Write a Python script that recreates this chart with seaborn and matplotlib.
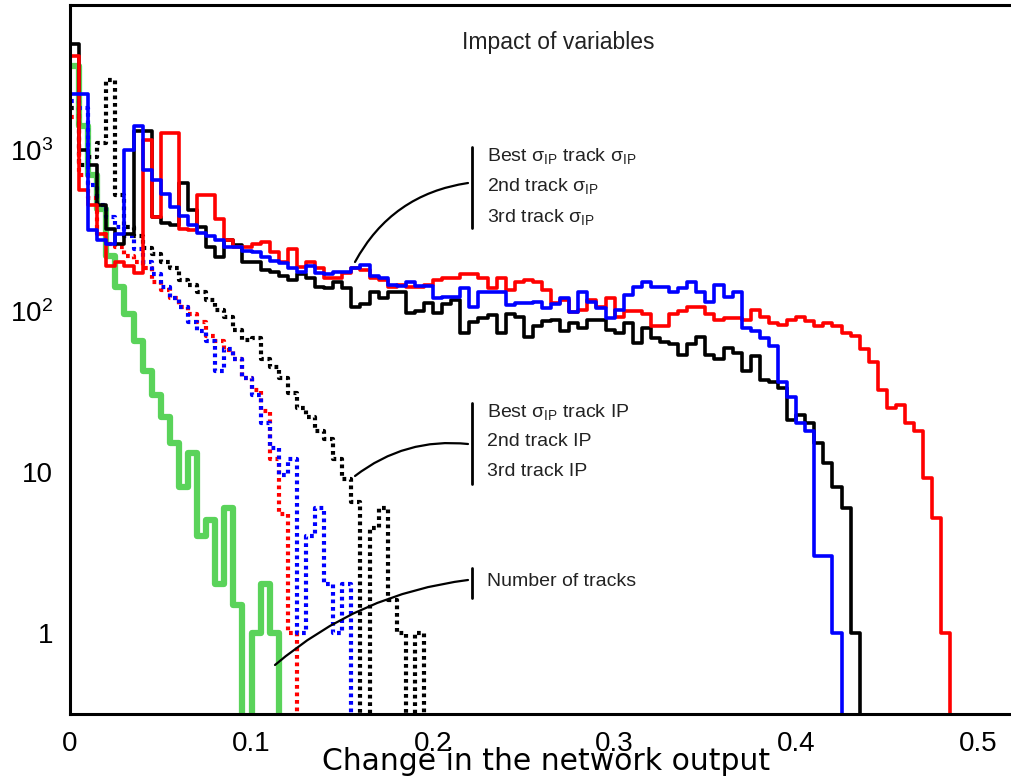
import numpy as np
import pandas as pd
import matplotlib
matplotlib.use("Agg")
import matplotlib.pyplot as plt
import seaborn as sns
from matplotlib.lines import Line2D
from matplotlib.ticker import (MultipleLocator, FixedLocator, FixedFormatter,
                               LogLocator, NullFormatter, FuncFormatter)

# binning of the "change in network output" histograms
bin_width = 0.005
n_bins = 104

# --- sigma_IP variables (solid) ---
best_sigma_sigma = [4500, 1000, 800, 450, 320, 260, 300, 1300, 1300, 380,
                    350, 340, 620, 420, 330, 250, 215, 275, 255, 200,
                    200, 180, 175, 165, 155, 168, 160, 140, 139, 150,
                    139, 105, 110, 130, 120, 131, 131, 97, 100, 112,
                    97, 110, 117, 73, 85, 90, 94, 73, 95, 92,
                    69, 80, 86, 88, 75, 84, 78, 88, 88, 76,
                    73, 84, 63, 78, 68, 64, 62, 53, 62, 69,
                    53, 50, 59, 55, 42, 52, 37, 36, 33, 21,
                    22.5, 20, 15, 11.4, 8.1, 6, 1]

second_sigma = [3800, 560, 450, 300, 190, 200, 190, 172, 1150, 380,
                1270, 1270, 320, 315, 525, 525, 370, 275, 250, 250,
                260, 268, 230, 200, 240, 188, 200, 185, 160, 160,
                172, 185, 180, 160, 155, 140, 145, 141, 141, 145,
                155, 160, 160, 168, 168, 160, 139, 160, 135, 150,
                155, 150, 135, 111, 117, 98, 101, 117, 106, 120,
                92, 100, 100, 95, 80, 80, 95, 100, 105, 105,
                95, 88, 90, 90, 88, 101, 92, 84, 82, 88,
                92, 86, 80, 84, 80, 73, 70, 58, 48, 32,
                25, 26, 20, 18, 9.2, 5.2, 1.0]

third_sigma = [2200, 2200, 315, 275, 260, 300, 1000, 1400, 750, 650,
               530, 440, 390, 340, 305, 290, 275, 250, 248, 235,
               230, 215, 205, 198, 185, 175, 190, 172, 170, 174,
               175, 185, 192, 165, 160, 145, 142, 150, 143, 143,
               120, 122, 122, 139, 106, 130, 131, 131, 109, 111,
               111, 114, 104, 110, 120, 98, 131, 114, 104, 90,
               101, 126, 140, 150, 141, 140, 130, 138, 150, 130,
               114, 145, 122, 130, 78, 75, 68, 60, 36, 29,
               20, 18, 3.0, 3.0, 1.0]

# --- IP variables (dotted) ---
best_sigma_ip = [1800, 800, 900, 1100, 2700, 520, 330, 290, 245, 225,
                 200, 185, 155, 145, 131, 117, 101, 92, 76, 66,
                 68, 50, 45, 38, 31, 25, 22, 18, 16, 12,
                 9, 6.5, 0, 4.5, 6, 1.6, 1.0, 0, 1.0]

second_ip = [1600, 700, 500, 300, 260, 250, 220, 200, 185, 150,
             135, 120, 105, 95, 85, 70, 65, 57, 50, 38,
             32, 24, 12, 5.5, 1.0]

third_ip = [2000, 1800, 600, 450, 380, 330, 290, 240, 200, 170,
            140, 120, 105, 85, 75, 65, 42, 58, 50, 38,
            30, 20, 14, 9.5, 12, 1.0, 4, 6, 2, 1.0,
            2]

# --- number of tracks ---
n_tracks = [3300, 1400, 700, 430, 220, 140, 95, 65, 42, 30,
            22, 15, 8, 13, 4, 5, 2.0, 6, 1.5, 0,
            1.0, 2.0, 1.0]

edges = np.arange(n_bins + 1) * bin_width
centers = edges[:-1] + bin_width / 2


def to_frame(vals):
    w = np.zeros(n_bins)
    w[:len(vals)] = vals
    return pd.DataFrame({'x': centers, 'w': w})


sns.set_style("white")
plt.rcParams['font.family'] = ['Liberation Sans', 'DejaVu Sans']
plt.rcParams['mathtext.fontset'] = 'custom'
plt.rcParams['mathtext.rm'] = 'Liberation Sans'
plt.rcParams['mathtext.it'] = 'Liberation Sans'

W, H = 1011, 780
fig = plt.figure(figsize=(W / 100, H / 100), dpi=100)
ax = fig.add_axes([70 / W, 66 / H, 944 / W, 709 / H])
ax.set_yscale('log')

dots = (0, (0.9, 0.9))
series = [
    (n_tracks, '#5ad35a', '-', 4.5),
    (best_sigma_ip, 'black', dots, 3.0),
    (second_ip, '#ff0000', dots, 3.0),
    (third_ip, '#0000ff', dots, 3.0),
    (best_sigma_sigma, 'black', '-', 2.6),
    (second_sigma, '#ff0000', '-', 2.6),
    (third_sigma, '#0000ff', '-', 2.6),
]
for vals, color, ls, lw in series:
    sns.histplot(data=to_frame(vals), x='x', weights='w', bins=list(edges),
                 element='step', fill=False, color=color, linewidth=lw,
                 linestyle=ls, ax=ax)

ax.set_xlim(0, 0.52)
ax.set_ylim(0.314, 7900)
ax.set_xlabel('')
ax.set_ylabel('')

ax.xaxis.set_major_locator(MultipleLocator(0.1))
ax.xaxis.set_minor_locator(MultipleLocator(0.02))
ax.xaxis.set_major_formatter(FuncFormatter(lambda v, p: '0' if abs(v) < 1e-9 else f'{v:.1f}'))
ax.yaxis.set_major_locator(FixedLocator([1, 10, 100, 1000]))
ax.yaxis.set_major_formatter(FixedFormatter(['1', '10', r'$\mathregular{10^2}$',
                                             r'$\mathregular{10^3}$']))
ax.yaxis.set_minor_locator(LogLocator(base=10, subs=np.arange(2, 10)))
ax.yaxis.set_minor_formatter(NullFormatter())

ax.tick_params(which='both', direction='in', width=2, colors='black',
               labelsize=20)
ax.tick_params(axis='x', which='major', length=14, pad=12)
ax.tick_params(axis='x', which='minor', length=8)
ax.tick_params(axis='y', which='major', length=22, pad=12)
ax.tick_params(axis='y', which='minor', length=11)
for s in ['left', 'bottom', 'top']:
    ax.spines[s].set_linewidth(2.2)
    ax.spines[s].set_color('black')
ax.spines['right'].set_visible(False)


def fx(px):
    return px / W


def fy(py):
    return 1 - py / H


fig.text(fx(558), fy(42), 'Impact of variables', ha='center', va='center',
         fontsize=16.5, color='#222222')

txt_kw = dict(ha='left', va='center', fontsize=14, color='#222222')
sig = r'$\mathregular{\sigma_{IP}}$'
fig.text(fx(487), fy(156), 'Best ' + sig + ' track ' + sig, **txt_kw)
fig.text(fx(487), fy(186), '2nd track ' + sig, **txt_kw)
fig.text(fx(487), fy(217), '3rd track ' + sig, **txt_kw)
fig.text(fx(487), fy(412), 'Best ' + sig + ' track IP', **txt_kw)
fig.text(fx(487), fy(442), '2nd track IP', **txt_kw)
fig.text(fx(487), fy(472), '3rd track IP', **txt_kw)
fig.text(fx(487), fy(581), 'Number of tracks', **txt_kw)

for y0, y1 in [(147, 228), (403, 484), (568, 598)]:
    fig.add_artist(Line2D([fx(472), fx(472)], [fy(y0), fy(y1)], color='black', lw=2))

for (x0, y0), (x1, y1), rad in [((468, 183), (355, 262), 0.25),
                                ((468, 444), (355, 476), 0.2),
                                ((468, 580), (275, 665), 0.15)]:
    ax.annotate('', xy=(fx(x1), fy(y1)), xycoords='figure fraction',
                xytext=(fx(x0), fy(y0)), textcoords='figure fraction',
                arrowprops=dict(arrowstyle='-', connectionstyle=f'arc3,rad={rad}',
                                lw=1.6, color='black', shrinkA=0, shrinkB=0))

fig.text(fx(546), fy(762), 'Change in the network output', family='DejaVu Sans',
         fontsize=21.5, ha='center', va='center', color='black')

fig.savefig('out.png', dpi=100)
